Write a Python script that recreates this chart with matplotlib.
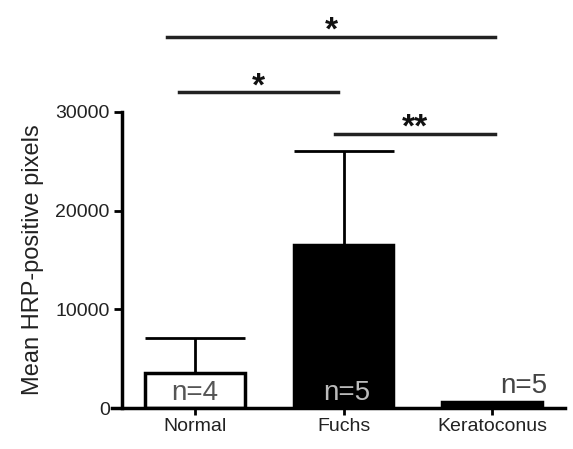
import matplotlib.pyplot as plt

# Данные
groups = ["Normal", "Fuchs", "Keratoconus"]
means = [3550, 16500, 600]
errors_up = [3550, 9500, 0]
n_labels = ["n=4", "n=5", "n=5"]
bar_faces = ["white", "black", "black"]
yticks = [0, 10000, 20000, 30000]

plt.rcParams['font.family'] = ['Liberation Sans', 'DejaVu Sans']

fig = plt.figure(figsize=(5.73, 4.49), dpi=100)
ax = fig.add_axes([0.1955, 0.0913, 0.7906, 0.6593])

x = list(range(len(groups)))
ax.bar(x, means, width=0.67, color=bar_faces, edgecolor="black", linewidth=2.5, zorder=2)
ax.errorbar(x, means, yerr=[[0] * len(x), errors_up], fmt="none", ecolor="black",
            elinewidth=2, capsize=36, capthick=2, zorder=1)

ax.set_xlim(-0.559, 2.49)
ax.set_ylim(0, 30000)
ax.set_xticks(x)
ax.set_xticklabels(groups)
ax.set_yticks(yticks)
ax.set_yticklabels([str(v) for v in yticks])
ax.tick_params(axis="both", width=2, length=5, pad=2, labelsize=14, labelcolor="#222222")
ax.tick_params(axis="y", length=6, pad=3)
ax.set_ylabel("Mean HRP-positive pixels", fontsize=17, labelpad=8, color="#222222")

for side in ["top", "right"]:
    ax.spines[side].set_visible(False)
ax.spines["left"].set_position(("data", -0.49))
ax.spines["left"].set_linewidth(2.5)
ax.spines["bottom"].set_linewidth(2.5)

# подписи n внутри/над столбцами
ax.text(0, 250, n_labels[0], ha="center", va="bottom", fontsize=20, color="#555555", zorder=3)
ax.text(1.02, 250, n_labels[1], ha="center", va="bottom", fontsize=20, color="#bbbbbb", zorder=3)
ax.text(2.21, 900, n_labels[2], ha="center", va="bottom", fontsize=20, color="#444444", zorder=3)

# линии значимости
sig = [(-0.19, 2.02, 37600, "*"), (-0.11, 0.96, 32000, "*"), (0.94, 2.02, 27760, "**")]
for x1, x2, yy, mark in sig:
    ax.plot([x1, x2], [yy, yy], color="#222222", linewidth=2.5, clip_on=False)
    ax.text((x1 + x2) / 2, yy - 1000, mark, ha="center", va="bottom", fontsize=24,
            fontweight="bold", color="#111111", clip_on=False)

fig.savefig("out.png", dpi=100)
